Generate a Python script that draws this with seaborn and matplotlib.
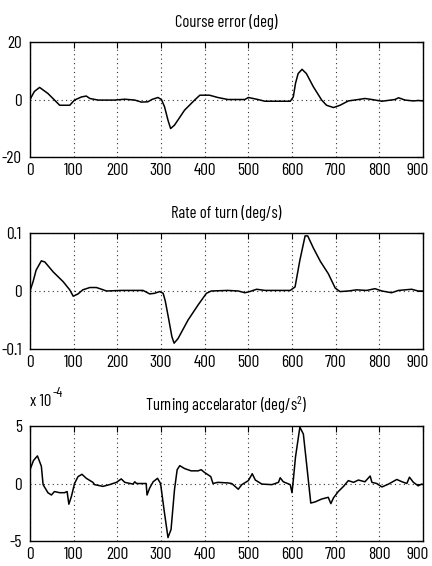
import matplotlib
matplotlib.use("Agg")
import matplotlib.pyplot as plt
import matplotlib.transforms as mtransforms
import seaborn as sns
import pandas as pd
from matplotlib import font_manager

# ---- data ----
course_t = [0, 10, 22, 41, 68, 91, 102, 118, 129, 137, 156, 194, 217, 240, 255, 270, 279, 293, 301,
            308, 316, 322, 331, 354, 377, 389, 411, 430, 453, 492, 500, 519, 538, 596, 603, 608, 614,
            623, 633, 649, 668, 679, 695, 710, 729, 752, 767, 783, 806, 836, 844, 859, 878, 889, 900]
course_err = [0, 2.8, 4.2, 2.1, -2.0, -2.0, -0.2, 0.9, 1.2, 0.35, -0.2, -0.2, 0.1, -0.2, -0.9, -0.8,
              0.0, 0.7, 0.0, -2.5, -7.2, -10.1, -8.9, -3.7, -0.2, 1.5, 1.5, 0.7, 0.0, 0.0, 0.7, 0.1,
              -0.6, -0.6, 0.9, 5.6, 9.0, 10.5, 9.0, 4.4, -0.2, -2.0, -2.8, -2.0, -0.5, 0.0, 0.35, 0.0,
              -0.6, 0.0, 0.6, -0.2, -0.5, -0.35, -0.5]

rate_t = [0, 7, 14, 26, 34, 53, 76, 91, 99, 110, 121, 137, 152, 164, 175, 209, 259, 274, 285, 297,
          305, 310, 318, 325, 330, 339, 362, 385, 404, 415, 453, 477, 492, 503, 519, 538, 596, 607,
          618, 630, 636, 649, 665, 683, 699, 710, 729, 748, 771, 790, 806, 828, 844, 874, 889, 900]
rate_turn = [0, 0.016, 0.036, 0.052, 0.050, 0.033, 0.016, 0.002, -0.009, -0.005, 0.002, 0.006,
             0.006, 0.003, 0.0, 0.001, 0.001, -0.005, -0.004, -0.001, -0.004, -0.018, -0.05, -0.079,
             -0.09, -0.082, -0.05, -0.024, -0.004, 0.0, 0.001, 0.0, -0.003, -0.001, 0.003, 0.001,
             0.001, 0.007, 0.053, 0.095, 0.095, 0.074, 0.051, 0.030, 0.005, -0.001, 0.0, 0.002,
             0.001, 0.004, 0.0, -0.003, 0.001, 0.003, 0.0, 0.0]

accel_t = [0, 8, 17, 26, 30, 41, 49, 56, 68, 79, 85, 89, 95, 102, 110, 119, 129, 144, 148, 167, 182,
           198, 209, 217, 236, 240, 244, 266, 268, 274, 282, 292, 299, 307, 316, 323, 331, 337, 343,
           354, 369, 385, 392, 400, 414, 419, 430, 453, 462, 477, 485, 500, 509, 516, 531, 554, 569,
           573, 580, 596, 600, 603, 608, 618, 626, 634, 643, 653, 668, 683, 689, 695, 706, 718, 729,
           741, 752, 767, 779, 783, 794, 806, 821, 840, 852, 863, 869, 878, 889, 897, 900]
accel_e4 = [1.2, 2.0, 2.4, 1.5, -0.1, -0.8, -1.0, -0.7, -0.8, -0.8, -0.7, -1.8, -1.1, 0.0, 0.6, 0.8,
            0.45, 0.1, -0.1, -0.25, -0.1, 0.1, 0.4, 0.1, -0.05, 0.15, 0.0, 0.0, -1.0, -0.4, 0.15,
            0.45, 0.0, -2.3, -4.7, -4.0, -0.5, 1.2, 1.55, 1.3, 1.1, 1.1, 1.2, 0.95, 0.6, 0.0, 0.1,
            0.05, 0.0, -0.5, -0.1, 0.25, 0.85, 0.3, -0.05, -0.1, 0.1, 0.5, 0.15, -0.1, -0.8, 0.3,
            2.3, 4.9, 4.3, 1.5, -1.7, -1.6, -1.35, -1.2, -1.75, -1.25, -0.7, -0.25, 0.25, 0.1, 0.3,
            0.15, 0.65, 0.1, 0.0, -0.3, -0.05, 0.35, 0.15, 0.0, 0.55, 0.1, -0.2, -0.05, -0.1]

titles = ["Course error (deg)", "Rate of turn (deg/s)", "Turning accelarator (deg/s$^2$)"]
x_ticks = [0, 100, 200, 300, 400, 500, 600, 700, 800, 900]
y_ticks = [[-20, 0, 20], [-0.1, 0, 0.1], [-5, 0, 5]]
y_ticklabels = [["-20", "0", "20"], ["-0.1", "0", "0.1"], ["-5", "0", "5"]]

# ---- style ----
sns.set_style("white")
avail = {f.name for f in font_manager.fontManager.ttflist}
main_font = "Barlow Condensed" if "Barlow Condensed" in avail else (
    "Archivo Narrow" if "Archivo Narrow" in avail else "DejaVu Sans")
fam = [main_font, "DejaVu Sans"]
plt.rcParams["font.family"] = fam
plt.rcParams["mathtext.fontset"] = "custom"
plt.rcParams["mathtext.rm"] = main_font
plt.rcParams["mathtext.it"] = main_font

fig = plt.figure(figsize=(4.32, 5.66), dpi=100)
W, H = 432, 566
# axes boxes in pixels (left, top, right, bottom)
boxes = [(30, 42, 423, 157), (30, 233, 423, 349), (30, 426, 423, 541)]

series = [
    pd.DataFrame({"t": course_t, "v": course_err}),
    pd.DataFrame({"t": rate_t, "v": rate_turn}),
    pd.DataFrame({"t": accel_t, "v": accel_e4}),
]

shift_left = mtransforms.ScaledTranslation(-5 / 100, 0, fig.dpi_scale_trans)

for i, (l, t, r, b) in enumerate(boxes):
    ax = fig.add_axes([l / W, 1 - b / H, (r - l) / W, (b - t) / H])
    sns.lineplot(data=series[i], x="t", y="v", ax=ax, color="black", linewidth=1.1)
    ax.set_xlim(0, 900)
    ax.set_ylim(y_ticks[i][0], y_ticks[i][-1])
    ax.set_xticks(x_ticks)
    ax.set_xticklabels([str(v) for v in x_ticks])
    ax.set_yticks(y_ticks[i])
    ax.set_yticklabels(y_ticklabels[i])
    ax.set_xlabel("")
    ax.set_ylabel("")
    ax.grid(True, color="#333333", linestyle=(0, (1, 3)), linewidth=0.8)
    ax.tick_params(direction="in", length=4, width=0.8, colors="black",
                   labelsize=12.5, top=True, right=True)
    ax.tick_params(axis="x", pad=4)
    ax.tick_params(axis="y", pad=6)
    last = ax.get_xticklabels()[-1]
    last.set_transform(last.get_transform() + shift_left)
    for s in ax.spines.values():
        s.set_color("black")
        s.set_linewidth(1.0)
    ax.set_title(titles[i], fontsize=12, color="black", pad=11)
    if i == 2:
        ax.text(0.0, 1.15, "x 10", transform=ax.transAxes, fontsize=12,
                ha="left", va="bottom", color="black")
        ax.text(0.057, 1.225, "-4", transform=ax.transAxes, fontsize=10,
                ha="left", va="bottom", color="black")

fig.savefig("out.png", dpi=100, facecolor="white")
